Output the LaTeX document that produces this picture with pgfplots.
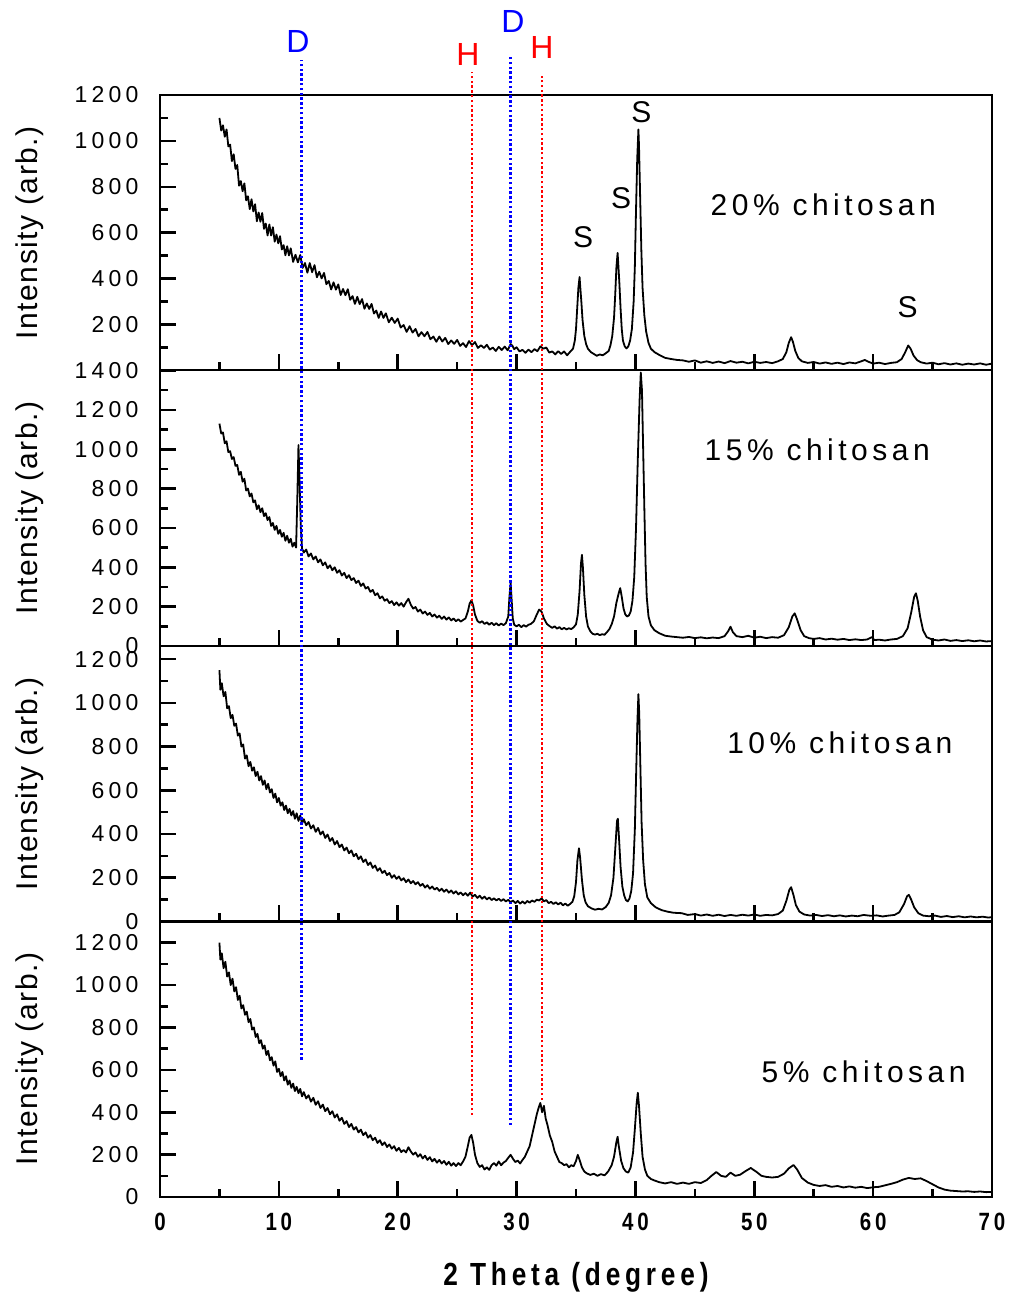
\documentclass[border=0pt]{standalone}
\usepackage{pgfplots}
\pgfplotsset{compat=1.18}
\usepackage{fontspec}
\setmainfont{Liberation Sans}
\newfontfamily\tickfont[LetterSpace=18]{Liberation Sans}
\newfontfamily\spacedfont[LetterSpace=15]{Liberation Sans}
\newfontfamily\labfont[LetterSpace=5]{Liberation Sans}
\newfontfamily\narrowfont[FakeStretch=0.82,LetterSpace=15]{Liberation Sans}
\definecolor{pblue}{RGB}{0,0,255}
\definecolor{pred}{RGB}{255,0,0}
\pgfplotsset{panel/.style={
  width=416pt, height=137.75pt, scale only axis,
  xmin=0, xmax=70, ymin=0,
  xtick={0,10,...,70}, minor xtick={5,15,...,65},
  tick align=inside, xtick pos=bottom, ytick pos=left,
  major tick length=8pt, minor tick length=4pt,
  every axis/.append style={line width=1pt},
  every tick/.style={black, line width=1.3pt},
  every major tick/.style={black, line width=1.3pt},
  every minor tick/.style={black, line width=1.3pt},
  axis line style={black, line width=1pt},
  xticklabel=\empty,
  yticklabel style={font=\fontsize{11.5}{13}\tickfont, xshift=-7pt},
  /pgf/number format/assume math mode=true,
  /pgf/number format/1000 sep={},
  ylabel={Intensity (arb.)},
  ylabel style={at={(axis description cs:-0.156,0.5)}, anchor=center, font=\fontsize{15}{17}\labfont},
  anchor=south west,
}}
\begin{document}
\begin{tikzpicture}
\path[use as bounding box] (-80pt,-51pt) rectangle (424.5pt,598.5pt);
% ---------- Panel 1: 20% ----------
\begin{axis}[panel, at={(0,413.25pt)}, ymax=1200,
  ytick={200,400,...,1200}, minor ytick={100,300,...,1100}]
\addplot[black, line width=0.9pt, line join=round] coordinates {
(5.0,1100)(5.15,1045)(5.3,1068)(5.45,1018)(5.6,1050)(5.75,976)(5.9,984)(6.05,912)(6.2,942)(6.35,878)(6.5,895)(6.65,805)(6.8,825)(6.95,781)(7.1,815)(7.25,741)(7.4,759)(7.55,703)(7.7,746)(7.85,693)(8.0,724)(8.15,650)(8.3,688)(8.45,648)(8.6,686)(8.75,617)(8.9,640)(9.05,588)(9.2,636)(9.35,588)(9.5,624)(9.65,561)(9.8,592)(9.95,554)(10.1,585)(10.25,527)(10.4,546)(10.55,502)(10.7,541)(10.85,501)(11.0,532)(11.2,473)(11.4,504)(11.6,471)(11.8,503)(12.0,447)(12.2,468)(12.4,426)(12.6,468)(12.8,428)(13.0,459)(13.2,406)(13.4,430)(13.6,401)(13.8,425)(14.0,376)(14.2,390)(14.4,353)(14.6,384)(14.8,352)(15.0,375)(15.2,329)(15.4,355)(15.6,328)(15.8,354)(16.0,308)(16.2,324)(16.4,290)(16.6,321)(16.8,289)(17.0,311)(17.2,269)(17.4,292)(17.6,268)(17.8,290)(18.0,248)(18.2,261)(18.4,229)(18.6,257)(18.8,229)(19.0,249)(19.25,210)(19.5,230)(19.75,207)(20.0,226)(20.25,187)(20.5,198)(20.75,168)(21.0,193)(21.25,165)(21.5,181)(21.75,149)(22.0,167)(22.25,149)(22.5,168)(22.75,136)(23.0,148)(23.25,125)(23.5,148)(23.75,126)(24.0,142)(24.25,115)(24.5,131)(24.75,116)(25.0,133)(25.25,107)(25.5,119)(25.75,102)(26.0,128)(26.25,110)(26.5,124)(26.75,98)(27.0,110)(27.25,98)(27.5,112)(27.75,91)(28.0,100)(28.25,85)(28.5,103)(28.75,89)(29.0,104)(29.25,88)(29.5,115)(29.65,108)(29.8,93)(30.0,101)(30.25,83)(30.5,90)(30.75,77)(31.0,91)(31.25,80)(31.5,93)(31.75,84)(32.0,105)(32.25,95)(32.5,100)(32.75,78)(33.0,83)(33.25,70)(33.5,84)(33.75,72)(34.0,83)(34.25,66)(34.5,81)(34.75,95)(34.9,130)(35.0,180)(35.1,270)(35.2,360)(35.3,407)(35.35,370)(35.45,300)(35.55,220)(35.7,150)(35.85,115)(36.0,95)(36.25,80)(36.5,72)(36.75,64)(37.0,70)(37.25,66)(37.5,75)(37.75,85)(37.9,110)(38.05,150)(38.2,230)(38.3,330)(38.4,450)(38.5,512)(38.55,470)(38.65,380)(38.75,270)(38.85,180)(38.95,130)(39.1,105)(39.25,96)(39.4,105)(39.55,130)(39.7,180)(39.85,300)(39.95,450)(40.05,700)(40.15,920)(40.25,1050)(40.3,980)(40.4,750)(40.5,520)(40.6,360)(40.75,240)(40.9,170)(41.1,120)(41.3,95)(41.6,80)(42.0,68)(42.5,55)(43.0,50)(43.5,46)(44.0,44)(44.5,38)(45.0,44)(45.5,34)(46.0,40)(46.5,33)(47.0,39)(47.5,32)(48.0,41)(48.5,34)(49.0,38)(49.5,31)(50.0,38)(50.5,33)(51.0,37)(51.5,32)(52.0,40)(52.4,50)(52.7,80)(52.9,120)(53.1,145)(53.25,125)(53.45,85)(53.7,55)(54.0,40)(54.5,33)(55.0,37)(55.5,30)(56.0,35)(56.5,29)(57.0,34)(57.5,28)(58.0,35)(58.5,31)(59.0,40)(59.3,46)(59.6,38)(60.0,30)(60.5,34)(61.0,28)(61.5,33)(62.0,36)(62.4,50)(62.7,80)(62.95,109)(63.15,95)(63.4,65)(63.7,45)(64.0,36)(64.5,30)(65.0,34)(65.5,27)(66.0,32)(66.5,26)(67.0,31)(67.5,25)(68.0,30)(68.5,26)(69.0,31)(69.5,25)(70.0,30)
};
\node[font=\fontsize{15}{17}\spacedfont] at (axis cs:55.8,720) {20\% chitosan};
\node[font=\fontsize{15}{17}\selectfont] at (axis cs:35.6,580) {S};
\node[font=\fontsize{15}{17}\selectfont] at (axis cs:38.8,750) {S};
\node[font=\fontsize{15}{17}\selectfont] at (axis cs:40.5,1126) {S};
\node[font=\fontsize{15}{17}\selectfont] at (axis cs:62.9,275) {S};
\end{axis}
% ---------- Panel 2: 15% ----------
\begin{axis}[panel, at={(0,275.5pt)}, ymax=1400,
  ytick={0,200,...,1400}, minor ytick={100,300,...,1300}]
\addplot[black, line width=0.9pt, line join=round] coordinates {
(5.0,1130)(5.15,1080)(5.3,1085)(5.45,1030)(5.6,1040)(5.75,985)(5.9,990)(6.05,950)(6.2,960)(6.35,915)(6.5,920)(6.65,870)(6.8,885)(6.95,835)(7.1,850)(7.25,790)(7.4,800)(7.55,760)(7.7,775)(7.85,730)(8.0,740)(8.15,695)(8.3,715)(8.45,680)(8.6,700)(8.75,660)(8.9,675)(9.05,640)(9.2,655)(9.35,610)(9.5,625)(9.65,590)(9.8,610)(9.95,570)(10.1,590)(10.25,555)(10.4,575)(10.55,535)(10.7,560)(10.85,525)(11.0,545)(11.15,505)(11.3,525)(11.45,500)(11.55,740)(11.65,1021)(11.75,820)(11.85,600)(11.95,495)(12.1,475)(12.3,490)(12.5,455)(12.7,470)(12.9,440)(13.1,455)(13.3,425)(13.5,440)(13.7,410)(13.9,425)(14.1,395)(14.3,410)(14.5,385)(14.7,400)(14.9,372)(15.1,385)(15.3,358)(15.5,372)(15.7,345)(15.9,360)(16.1,335)(16.3,345)(16.5,320)(16.7,332)(16.9,305)(17.1,318)(17.3,292)(17.5,300)(17.7,275)(17.9,285)(18.1,258)(18.3,268)(18.5,242)(18.7,252)(18.9,230)(19.1,238)(19.3,218)(19.5,228)(19.7,208)(19.9,222)(20.1,205)(20.3,218)(20.5,200)(20.7,222)(20.9,240)(21.1,210)(21.3,190)(21.5,198)(21.7,175)(21.9,185)(22.1,165)(22.3,175)(22.5,158)(22.7,168)(22.9,150)(23.1,160)(23.3,144)(23.5,154)(23.7,138)(23.9,150)(24.1,134)(24.3,145)(24.5,130)(24.7,140)(24.9,126)(25.1,136)(25.3,124)(25.5,132)(25.7,140)(25.9,175)(26.05,215)(26.2,232)(26.35,205)(26.5,160)(26.7,128)(26.9,118)(27.1,126)(27.3,112)(27.5,120)(27.7,108)(27.9,118)(28.1,106)(28.3,116)(28.5,104)(28.7,114)(28.9,106)(29.1,116)(29.3,150)(29.4,250)(29.5,323)(29.58,240)(29.68,140)(29.8,108)(30.0,100)(30.2,108)(30.4,96)(30.6,106)(30.8,98)(31.0,108)(31.2,112)(31.45,125)(31.7,160)(31.9,185)(32.1,175)(32.3,140)(32.55,112)(32.8,100)(33.0,92)(33.2,100)(33.4,88)(33.6,96)(33.8,85)(34.0,92)(34.2,84)(34.4,90)(34.6,86)(34.8,95)(35.0,110)(35.15,160)(35.3,280)(35.42,420)(35.5,463)(35.58,400)(35.7,260)(35.85,150)(36.0,100)(36.2,75)(36.4,62)(36.6,58)(36.8,62)(37.0,55)(37.2,60)(37.4,57)(37.6,70)(37.8,85)(38.0,110)(38.2,150)(38.4,220)(38.6,270)(38.72,294)(38.85,250)(39.0,190)(39.15,160)(39.3,150)(39.45,155)(39.6,175)(39.75,230)(39.9,350)(40.05,600)(40.2,950)(40.35,1250)(40.45,1390)(40.55,1300)(40.65,1000)(40.75,700)(40.85,420)(40.95,250)(41.1,150)(41.3,105)(41.6,80)(42.0,65)(42.5,52)(43.0,48)(43.5,45)(44.0,42)(44.5,46)(45.0,40)(45.5,44)(46.0,39)(46.5,43)(47.0,40)(47.5,50)(47.8,75)(48.0,98)(48.2,70)(48.5,50)(49.0,45)(49.5,52)(50.0,42)(50.5,47)(51.0,40)(51.5,45)(52.0,42)(52.5,55)(52.9,95)(53.2,150)(53.4,166)(53.6,135)(53.9,80)(54.2,50)(54.6,40)(55.0,36)(55.5,40)(56.0,33)(56.5,37)(57.0,32)(57.5,36)(58.0,30)(58.5,34)(59.0,30)(59.5,33)(59.9,45)(60.1,30)(60.5,32)(61.0,28)(61.5,33)(62.0,36)(62.5,50)(62.9,90)(63.2,170)(63.45,250)(63.6,268)(63.75,230)(63.95,150)(64.2,80)(64.5,45)(65.0,32)(65.5,28)(66.0,33)(66.5,26)(67.0,30)(67.5,25)(68.0,29)(68.5,24)(69.0,28)(69.5,23)(70.0,25)
};
\node[font=\fontsize{15}{17}\spacedfont] at (axis cs:55.3,998) {15\% chitosan};
\end{axis}
% ---------- Panel 3: 10% ----------
\begin{axis}[panel, at={(0,137.75pt)}, ymax=1260,
  ytick={0,200,...,1200}, minor ytick={100,300,...,1100}]
\addplot[black, line width=0.9pt, line join=round] coordinates {
(5.0,1150)(5.08,1060)(5.2,1090)(5.35,1030)(5.5,1050)(5.65,975)(5.8,985)(5.95,930)(6.1,945)(6.25,895)(6.4,905)(6.55,850)(6.7,860)(6.85,800)(7.0,810)(7.15,745)(7.3,760)(7.45,710)(7.6,730)(7.75,690)(7.9,705)(8.05,665)(8.2,685)(8.35,645)(8.5,665)(8.65,625)(8.8,645)(8.95,605)(9.1,630)(9.25,590)(9.4,605)(9.55,565)(9.7,585)(9.85,545)(10.0,565)(10.15,530)(10.3,545)(10.45,510)(10.6,530)(10.75,495)(10.9,515)(11.05,485)(11.2,505)(11.35,470)(11.5,495)(11.65,460)(11.8,485)(11.95,448)(12.1,468)(12.3,440)(12.5,455)(12.7,425)(12.9,440)(13.1,410)(13.3,428)(13.5,398)(13.7,412)(13.9,382)(14.1,398)(14.3,368)(14.5,382)(14.7,352)(14.9,368)(15.1,340)(15.3,352)(15.5,325)(15.7,338)(15.9,312)(16.1,325)(16.3,298)(16.5,310)(16.7,285)(16.9,298)(17.1,272)(17.3,284)(17.5,258)(17.7,270)(17.9,245)(18.1,256)(18.3,232)(18.5,244)(18.7,222)(18.9,232)(19.1,212)(19.3,222)(19.5,200)(19.7,212)(19.9,195)(20.1,206)(20.3,188)(20.5,198)(20.7,180)(20.9,192)(21.1,175)(21.3,185)(21.5,170)(21.7,180)(21.9,163)(22.1,172)(22.3,155)(22.5,166)(22.7,150)(22.9,160)(23.1,146)(23.3,154)(23.5,140)(23.7,150)(23.9,136)(24.1,146)(24.3,132)(24.5,142)(24.7,128)(24.9,138)(25.1,124)(25.3,133)(25.5,120)(25.7,130)(25.9,118)(26.1,132)(26.3,114)(26.5,122)(26.7,108)(26.9,118)(27.1,104)(27.3,114)(27.5,101)(27.7,110)(27.9,98)(28.1,106)(28.3,96)(28.5,104)(28.7,94)(28.9,102)(29.1,92)(29.3,99)(29.5,88)(29.7,96)(29.9,84)(30.1,94)(30.3,82)(30.5,92)(30.7,82)(30.9,94)(31.1,86)(31.3,96)(31.5,90)(31.7,100)(31.9,96)(32.1,106)(32.3,92)(32.5,98)(32.7,84)(32.9,90)(33.1,80)(33.3,88)(33.5,78)(33.7,86)(33.9,74)(34.1,82)(34.3,72)(34.5,80)(34.7,90)(34.85,115)(35.0,180)(35.12,280)(35.25,335)(35.35,290)(35.5,190)(35.65,120)(35.8,88)(36.0,70)(36.3,60)(36.6,54)(36.9,58)(37.2,55)(37.5,66)(37.75,85)(37.95,120)(38.15,200)(38.3,330)(38.45,460)(38.52,470)(38.62,380)(38.75,250)(38.9,160)(39.05,120)(39.2,98)(39.35,92)(39.5,105)(39.65,140)(39.8,220)(39.95,420)(40.07,700)(40.17,920)(40.25,1040)(40.32,950)(40.42,700)(40.52,450)(40.65,280)(40.8,170)(41.0,110)(41.3,84)(41.7,65)(42.2,52)(42.7,45)(43.2,40)(43.9,38)(44.4,30)(45.0,34)(45.5,27)(46.0,32)(46.5,26)(47.0,31)(47.5,25)(48.0,30)(48.5,26)(49.0,31)(49.5,27)(50.0,32)(50.5,26)(51.0,30)(51.5,28)(52.0,34)(52.4,50)(52.7,95)(52.95,145)(53.1,157)(53.3,120)(53.5,75)(53.8,45)(54.2,32)(54.7,27)(55.2,30)(55.7,25)(56.2,29)(56.7,24)(57.2,28)(57.7,23)(58.2,27)(58.7,24)(59.2,30)(59.8,26)(60.3,28)(60.8,23)(61.3,27)(61.8,30)(62.2,42)(62.6,80)(62.85,115)(63.0,122)(63.2,100)(63.45,65)(63.8,38)(64.2,27)(64.7,24)(65.2,27)(65.7,21)(66.2,25)(66.7,20)(67.2,24)(67.7,19)(68.2,23)(68.7,19)(69.2,22)(69.7,18)(70.0,20)
};
\node[font=\fontsize{15}{17}\spacedfont] at (axis cs:57.2,819) {10\% chitosan};
\end{axis}
% ---------- Panel 4: 5% ----------
\begin{axis}[panel, at={(0,0pt)}, ymax=1300, clip=false,
  ytick={0,200,...,1200}, minor ytick={100,300,...,1100},
  xticklabel={\pgfmathprintnumber{\tick}},
  xticklabel style={font=\fontsize{12.5}{14}\narrowfont\bfseries, yshift=-4pt},
  xlabel={2 Theta (degree)},
  xlabel style={at={(axis description cs:0.5,-0.29)}, anchor=center, font=\fontsize{16}{18}\narrowfont\bfseries}]
\addplot[black, line width=0.9pt, line join=round] coordinates {
(5.0,1200)(5.08,1120)(5.2,1150)(5.35,1080)(5.5,1110)(5.65,1040)(5.8,1060)(5.95,1000)(6.1,1030)(6.25,970)(6.4,990)(6.55,930)(6.7,950)(6.85,890)(7.0,905)(7.15,860)(7.3,875)(7.45,825)(7.6,840)(7.75,790)(7.9,800)(8.05,755)(8.2,770)(8.35,725)(8.5,740)(8.65,700)(8.8,715)(8.95,670)(9.1,690)(9.25,645)(9.4,660)(9.55,620)(9.7,640)(9.85,590)(10.0,605)(10.15,570)(10.3,590)(10.45,550)(10.6,570)(10.75,530)(10.9,550)(11.05,515)(11.2,535)(11.35,500)(11.5,520)(11.65,490)(11.8,510)(11.95,475)(12.1,495)(12.3,465)(12.5,480)(12.7,450)(12.9,468)(13.1,435)(13.3,452)(13.5,420)(13.7,436)(13.9,405)(14.1,420)(14.3,390)(14.5,405)(14.7,375)(14.9,390)(15.1,360)(15.3,374)(15.5,345)(15.7,358)(15.9,330)(16.1,345)(16.3,318)(16.5,330)(16.7,305)(16.9,318)(17.1,292)(17.3,305)(17.5,280)(17.7,292)(17.9,268)(18.1,280)(18.3,255)(18.5,268)(18.7,245)(18.9,258)(19.1,236)(19.3,248)(19.5,228)(19.7,240)(19.9,218)(20.1,232)(20.3,212)(20.5,222)(20.7,210)(20.9,235)(21.1,215)(21.3,200)(21.5,210)(21.7,190)(21.9,202)(22.1,182)(22.3,195)(22.5,175)(22.7,188)(22.9,168)(23.1,180)(23.3,162)(23.5,175)(23.7,158)(23.9,170)(24.1,152)(24.3,166)(24.5,148)(24.7,160)(24.9,146)(25.1,160)(25.3,150)(25.5,168)(25.7,190)(25.9,240)(26.05,280)(26.2,293)(26.35,255)(26.5,200)(26.7,160)(26.9,142)(27.1,150)(27.3,130)(27.5,140)(27.7,128)(27.9,150)(28.1,160)(28.3,148)(28.5,168)(28.7,150)(28.9,162)(29.1,170)(29.3,185)(29.5,199)(29.7,180)(29.9,165)(30.1,172)(30.3,158)(30.5,175)(30.7,190)(30.9,215)(31.1,240)(31.3,290)(31.5,340)(31.7,390)(31.85,420)(32.0,444)(32.15,400)(32.3,430)(32.45,370)(32.6,340)(32.8,290)(33.0,260)(33.2,215)(33.4,190)(33.6,165)(33.8,160)(34.0,150)(34.2,155)(34.4,140)(34.6,150)(34.8,145)(35.0,170)(35.15,199)(35.3,175)(35.5,140)(35.7,120)(35.9,112)(36.2,104)(36.5,110)(36.8,100)(37.1,108)(37.4,102)(37.7,120)(38.0,150)(38.2,190)(38.4,260)(38.5,284)(38.6,240)(38.8,170)(39.0,135)(39.2,120)(39.4,115)(39.6,140)(39.8,210)(39.95,320)(40.1,440)(40.2,492)(40.3,430)(40.45,300)(40.6,190)(40.8,130)(41.0,100)(41.3,85)(41.6,78)(42.0,70)(42.5,64)(43.0,70)(43.5,62)(44.0,68)(44.5,62)(45.0,70)(45.5,66)(46.0,80)(46.4,100)(46.8,118)(47.2,100)(47.6,95)(48.0,115)(48.4,100)(48.8,105)(49.2,120)(49.7,137)(50.2,118)(50.6,100)(51.0,95)(51.5,92)(52.0,95)(52.5,110)(52.9,135)(53.3,151)(53.6,130)(54.0,90)(54.5,68)(55.0,57)(55.5,52)(56.0,56)(56.5,48)(57.0,52)(57.5,45)(58.0,50)(58.5,44)(59.0,48)(59.5,42)(60.0,46)(60.5,48)(61.0,55)(61.5,62)(62.0,70)(62.5,82)(63.0,90)(63.5,85)(64.0,88)(64.5,75)(65.0,60)(65.5,45)(66.0,35)(66.5,30)(67.0,28)(67.5,26)(68.0,27)(68.5,24)(69.0,26)(69.5,23)(70.0,24)
};
\node[font=\fontsize{15}{17}\spacedfont] at (axis cs:59.2,591) {5\% chitosan};
% reference lines
\draw[pblue, line width=1.2pt, dash pattern=on 1.2pt off 1.2pt] (axis cs:11.9,647) -- (axis cs:11.9,5366);
\draw[pred, line width=1.2pt, dash pattern=on 1.2pt off 1.2pt] (axis cs:26.25,387) -- (axis cs:26.25,5309);
\draw[pblue, line width=1.2pt, dash pattern=on 1.2pt off 1.2pt] (axis cs:29.5,340) -- (axis cs:29.5,5385);
\draw[pred, line width=1.2pt, dash pattern=on 1.2pt off 1.2pt] (axis cs:32.15,458) -- (axis cs:32.15,5290);
\node[pblue, font=\fontsize{16}{18}\selectfont] at (axis cs:11.6,5451) {D};
\node[pred, font=\fontsize{16}{18}\selectfont] at (axis cs:25.9,5389) {H};
\node[pblue, font=\fontsize{16}{18}\selectfont] at (axis cs:29.7,5545) {D};
\node[pred, font=\fontsize{16}{18}\selectfont] at (axis cs:32.14,5422) {H};
\end{axis}
\end{tikzpicture}
\end{document}
